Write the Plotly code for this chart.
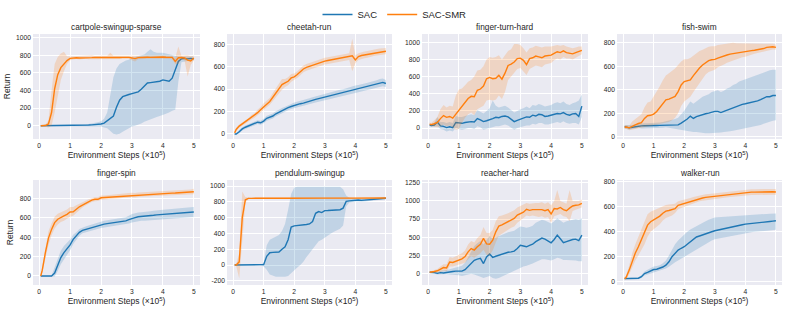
import plotly.graph_objects as go

# ---------------- data ----------------
STEPS = [0.05, 0.1, 0.2, 0.3, 0.4, 0.5, 0.6, 0.7, 0.8, 0.9,
         1.0, 1.1, 1.2, 1.3, 1.4, 1.5, 1.6, 1.7, 1.8, 1.9,
         2.0, 2.1, 2.2, 2.3, 2.4, 2.5, 2.6, 2.7, 2.8, 2.9,
         3.0, 3.1, 3.2, 3.3, 3.4, 3.5, 3.6, 3.7, 3.8, 3.9,
         4.0, 4.1, 4.2, 4.3, 4.4, 4.5, 4.6, 4.7, 4.8, 4.9,
         5.0]
X_TICKS = [0, 1, 2, 3, 4, 5]
SERIES = ["SAC", "SAC-SMR"]
TITLES = ["cartpole-swingup-sparse", "cheetah-run", "finger-turn-hard", "fish-swim",
          "finger-spin", "pendulum-swingup", "reacher-hard", "walker-run"]

# cartpole-swingup-sparse
CP_SAC_MEAN = [0, 0, 0, 0, 0, 0, 0, 0, 0, 0,
               0, 0, 0, 2, 3, 5, 8, 10, 12, 15,
               20, 30, 60, 85, 110, 210, 290, 330, 345, 355,
               365, 375, 385, 415, 450, 485, 490, 495, 500, 505,
               520, 510, 505, 540, 640, 730, 760, 765, 760, 765,
               760]
CP_SAC_LO = [-3, -3, -3, -3, -3, -3, -3, -3, -3, -3,
             -3, -3, -3, -3, -5, -5, -5, -8, -10, -10,
             -10, -20, -30, -60, -90, -100, -90, -70, -50, -30,
             -10, 0, 10, 25, 45, 60, 75, 85, 100, 110,
             120, 135, 150, 170, 180, 500, 720, 730, 735, 740,
             740]
CP_SAC_HI = [3, 3, 3, 3, 3, 3, 3, 3, 3, 3,
             3, 3, 5, 8, 10, 15, 20, 25, 30, 40,
             50, 80, 150, 350, 550, 650, 700, 720, 740, 750,
             770, 780, 790, 800, 810, 840, 870, 840, 830, 830,
             830, 820, 810, 800, 790, 785, 785, 785, 785, 785,
             785]
CP_SMR_MEAN = [0, 0, 2, 20, 150, 420, 580, 660, 700, 740,
               765, 770, 772, 770, 773, 775, 772, 774, 776, 775,
               774, 776, 775, 778, 776, 777, 775, 776, 778, 776,
               770, 762, 774, 777, 776, 778, 776, 779, 777, 778,
               780, 778, 779, 776, 730, 772, 775, 770, 745, 735,
               770]
CP_SMR_LO = [-5, -5, -10, -20, 0, 150, 350, 520, 620, 700,
             745, 755, 758, 752, 758, 760, 755, 755, 760, 758,
             755, 760, 758, 760, 758, 760, 757, 758, 760, 757,
             745, 730, 755, 760, 758, 760, 758, 762, 760, 760,
             762, 760, 762, 755, 700, 700, 755, 740, 560, 690,
             740]
CP_SMR_HI = [5, 5, 15, 60, 400, 700, 780, 820, 840, 790,
             785, 787, 788, 790, 790, 792, 790, 800, 792, 792,
             792, 794, 795, 830, 795, 796, 795, 796, 796, 796,
             795, 790, 793, 795, 795, 797, 795, 797, 796, 797,
             798, 797, 797, 796, 770, 900, 795, 795, 800, 790,
             795]

# cheetah-run
CH_SAC_MEAN = [0, 0, 20, 45, 60, 70, 80, 95, 105, 100,
               115, 140, 150, 160, 180, 195, 210, 220, 235, 245,
               255, 262, 270, 275, 285, 292, 300, 308, 315, 322,
               330, 335, 342, 350, 358, 365, 370, 378, 385, 392,
               400, 405, 410, 418, 425, 430, 438, 445, 455, 460,
               450]
CH_SAC_LO = [-5, -5, 5, 30, 45, 55, 65, 78, 88, 82,
             95, 118, 128, 138, 158, 172, 188, 198, 212, 222,
             230, 237, 245, 250, 258, 265, 272, 280, 287, 294,
             300, 305, 312, 320, 328, 335, 340, 347, 354, 360,
             368, 372, 378, 385, 392, 396, 404, 410, 420, 425,
             418]
CH_SAC_HI = [5, 5, 35, 60, 75, 85, 95, 112, 122, 118,
             135, 162, 172, 182, 202, 218, 232, 242, 258, 268,
             280, 287, 295, 300, 312, 319, 328, 336, 343, 350,
             360, 365, 372, 380, 388, 395, 400, 409, 416, 424,
             432, 438, 442, 451, 458, 464, 472, 480, 490, 495,
             482]
CH_SMR_MEAN = [10, 40, 70, 90, 110, 125, 150, 165, 190, 215,
               245, 265, 290, 330, 370, 410, 440, 455, 470, 500,
               510, 530, 555, 580, 595, 605, 615, 625, 635, 645,
               650, 655, 660, 665, 670, 675, 680, 685, 690, 698,
               660, 690, 700, 705, 710, 718, 722, 728, 732, 735,
               738]
CH_SMR_LO = [0, 25, 55, 75, 95, 110, 130, 145, 165, 190,
             215, 235, 260, 295, 330, 360, 395, 420, 435, 465,
             480, 500, 525, 550, 565, 575, 585, 595, 605, 615,
             620, 625, 630, 635, 640, 645, 650, 655, 660, 560,
             630, 660, 670, 675, 680, 690, 695, 700, 705, 708,
             712]
CH_SMR_HI = [20, 55, 85, 105, 125, 140, 170, 185, 215, 240,
             275, 295, 320, 365, 410, 455, 490, 490, 505, 535,
             540, 560, 585, 610, 625, 635, 645, 655, 665, 675,
             680, 685, 690, 695, 700, 705, 710, 715, 720, 850,
             700, 720, 730, 735, 740, 748, 752, 758, 762, 765,
             768]

# finger-turn-hard
FT_SAC_MEAN = [35, 30, 35, 70, 25, 20, 5, 15, 5, 65,
               60, 55, 65, 70, 75, 70, 110, 95, 75, 85,
               95, 110, 125, 120, 135, 140, 130, 100, 75, 90,
               105, 115, 130, 125, 150, 140, 160, 155, 135, 140,
               150, 160, 170, 165, 180, 160, 150, 165, 170, 135,
               255]
FT_SAC_LO = [20, 15, 15, 20, -10, -20, -40, -30, -40, 0,
             -10, -20, -10, 0, 0, -10, 20, 10, -20, -10,
             0, 10, 20, 20, 30, 40, 30, 0, -20, 0,
             10, 20, 30, 30, 50, 40, 60, 60, 40, 40,
             50, 60, 70, 60, 80, 60, 50, 60, 60, 40,
             130]
FT_SAC_HI = [50, 45, 60, 130, 70, 70, 60, 70, 60, 140,
             130, 130, 140, 150, 160, 150, 210, 190, 170, 200,
             230, 320, 260, 240, 250, 260, 240, 210, 180, 200,
             220, 230, 250, 230, 270, 260, 280, 270, 250, 260,
             270, 290, 300, 290, 310, 280, 270, 290, 300, 320,
             390]
FT_SMR_MEAN = [45, 40, 50, 65, 110, 145, 125, 135, 115, 160,
               210, 255, 305, 345, 370, 365, 440, 455, 490, 575,
               590, 575, 580, 615, 570, 640, 730, 745, 770, 810,
               815, 790, 740, 810, 820, 840, 830, 820, 840, 845,
               850, 870, 890, 880, 900, 880, 875, 865, 880, 895,
               905]
FT_SMR_LO = [25, 20, 15, 10, 20, 40, 20, 30, 10, -20,
             -10, 60, 120, 160, 180, 150, 220, 240, 260, 320,
             330, 320, 330, 380, 340, 420, 560, 600, 640, 690,
             700, 660, 620, 690, 710, 730, 720, 710, 740, 750,
             760, 790, 810, 800, 830, 810, 810, 800, 820, 840,
             860]
FT_SMR_HI = [65, 60, 90, 130, 220, 270, 240, 260, 250, 380,
             450, 460, 500, 540, 560, 600, 670, 680, 720, 800,
             830, 820, 830, 850, 800, 850, 900, 920, 980, 980,
             970, 930, 880, 930, 940, 960, 950, 940, 950, 950,
             950, 960, 970, 960, 970, 950, 940, 930, 940, 950,
             950]

# fish-swim
FI_SAC_MEAN = [85, 80, 75, 80, 85, 90, 92, 93, 92, 93,
               95, 95, 96, 97, 100, 100, 100, 102, 100, 115,
               130, 150, 175, 155, 170, 180, 190, 195, 200, 210,
               215, 215, 205, 215, 225, 240, 250, 255, 270, 275,
               280, 285, 290, 295, 305, 315, 330, 340, 340, 350,
               350]
FI_SAC_LO = [70, 65, 60, 65, 70, 75, 70, 70, 70, 75,
             75, 75, 75, 75, 80, 75, 70, 65, 60, 55,
             50, 50, 45, 40, 40, 35, 30, 30, 30, 30,
             35, 35, 35, 40, 40, 45, 50, 55, 60, 65,
             70, 75, 80, 85, 95, 100, 110, 120, 130, 135,
             140]
FI_SAC_HI = [100, 100, 95, 100, 105, 110, 115, 115, 115, 115,
             120, 120, 120, 125, 130, 135, 140, 150, 160, 190,
             220, 260, 300, 280, 300, 320, 340, 350, 360, 380,
             390, 395, 380, 390, 410, 420, 440, 450, 470, 480,
             490, 500, 510, 520, 530, 540, 550, 560, 565, 570,
             570]
FI_SMR_MEAN = [80, 82, 75, 90, 100, 112, 120, 155, 178, 182,
               192, 215, 250, 285, 314, 320, 330, 342, 384, 440,
               469, 475, 483, 520, 554, 585, 610, 630, 647, 655,
               658, 668, 675, 685, 695, 703, 708, 712, 716, 720,
               723, 727, 732, 736, 740, 743, 750, 760, 765, 765,
               760]
FI_SMR_LO = [65, 65, 55, 60, 65, 70, 75, 85, 90, 90,
             95, 100, 105, 110, 120, 125, 140, 160, 200, 260,
             300, 320, 340, 380, 420, 460, 500, 530, 550, 560,
             570, 590, 600, 615, 630, 640, 650, 660, 670, 675,
             680, 690, 700, 705, 712, 718, 725, 735, 740, 742,
             740]
FI_SMR_HI = [95, 100, 95, 130, 150, 170, 190, 250, 290, 300,
             340, 380, 430, 480, 520, 540, 560, 580, 610, 640,
             660, 660, 670, 690, 710, 730, 740, 755, 765, 770,
             770, 780, 785, 790, 795, 800, 800, 795, 795, 795,
             795, 795, 795, 795, 795, 795, 795, 795, 795, 790,
             785]

# finger-spin
FS_SAC_MEAN = [0, 0, 0, 0, 0, 30, 110, 190, 240, 280,
               320, 377, 412, 450, 470, 480, 490, 500, 510, 520,
               530, 535, 540, 545, 550, 556, 560, 562, 568, 580,
               594, 602, 610, 612, 614, 617, 622, 626, 630, 632,
               635, 637, 639, 641, 643, 645, 648, 651, 654, 657,
               659]
FS_SAC_LO = [-5, -5, -5, -5, -5, -5, 50, 120, 170, 220,
             265, 330, 375, 415, 440, 450, 460, 470, 478, 485,
             495, 500, 505, 510, 515, 520, 522, 525, 530, 540,
             550, 558, 565, 568, 570, 572, 576, 580, 583, 585,
             588, 590, 592, 594, 596, 598, 600, 602, 604, 606,
             608]
FS_SAC_HI = [5, 5, 5, 5, 5, 90, 180, 260, 310, 340,
             375, 425, 450, 485, 500, 510, 520, 530, 540, 552,
             565, 570, 575, 580, 585, 592, 598, 600, 606, 620,
             638, 646, 655, 656, 658, 662, 668, 672, 677, 679,
             682, 684, 686, 688, 690, 692, 696, 700, 704, 708,
             712]
FS_SMR_MEAN = [0, 60, 240, 390, 480, 550, 585, 605, 620, 635,
               660, 662, 690, 713, 730, 748, 765, 782, 790, 790,
               806, 808, 812, 815, 818, 822, 825, 828, 830, 832,
               834, 830, 836, 838, 840, 842, 843, 844, 846, 848,
               850, 851, 852, 854, 855, 856, 858, 860, 862, 864,
               868]
FS_SMR_LO = [-5, 30, 180, 320, 420, 490, 530, 555, 570, 590,
             610, 620, 650, 680, 705, 725, 745, 762, 770, 772,
             785, 788, 792, 795, 798, 802, 805, 808, 810, 812,
             812, 808, 814, 816, 818, 820, 821, 822, 824, 826,
             828, 829, 830, 831, 832, 833, 835, 836, 838, 840,
             842]
FS_SMR_HI = [5, 90, 300, 460, 540, 610, 640, 655, 670, 685,
             710, 710, 730, 748, 760, 775, 790, 805, 812, 812,
             828, 830, 834, 837, 840, 843, 846, 849, 852, 855,
             858, 855, 860, 862, 864, 866, 867, 868, 870, 872,
             874, 875, 876, 878, 880, 882, 884, 886, 888, 892,
             900]

# pendulum-swingup
PE_SAC_MEAN = [0, 0, 0, 0, 0, 0, 0, 0, 0, 0,
               5, 110, 155, 160, 160, 165, 200, 230, 320, 480,
               495, 498, 502, 507, 512, 520, 550, 655, 676, 664,
               689, 690, 692, 698, 698, 700, 720, 805, 812, 818,
               824, 822, 818, 822, 826, 828, 832, 836, 840, 842,
               845]
PE_SAC_LO = [-3, -3, -3, -3, -3, -3, -3, -3, -3, -3,
             -20, -60, -120, -140, -150, -150, -150, -150, -140, -100,
             -60, -30, 0, 40, 100, 150, 200, 260, 300, 320,
             350, 380, 400, 420, 440, 460, 500, 740, 790, 800,
             805, 805, 800, 805, 810, 812, 818, 822, 826, 828,
             830]
PE_SAC_HI = [3, 3, 3, 3, 3, 3, 3, 3, 3, 3,
             30, 250, 320, 340, 350, 380, 430, 520, 700, 900,
             980, 990, 990, 990, 990, 990, 990, 990, 990, 990,
             990, 990, 990, 990, 990, 990, 960, 880, 850, 845,
             845, 842, 838, 840, 845, 846, 848, 852, 855, 856,
             858]
PE_SMR_MEAN = [0, 0, 40, 600, 825, 843, 844, 845, 845, 845,
               845, 846, 845, 846, 846, 845, 846, 846, 845, 846,
               846, 846, 847, 846, 846, 847, 846, 847, 846, 847,
               847, 846, 847, 847, 846, 847, 847, 848, 847, 847,
               847, 848, 847, 848, 848, 847, 848, 848, 848, 848,
               848]
PE_SMR_LO = [-5, -10, -170, 320, 790, 835, 837, 838, 838, 838,
             838, 839, 838, 839, 839, 838, 839, 839, 838, 839,
             839, 839, 840, 839, 839, 840, 839, 840, 839, 840,
             840, 839, 840, 840, 839, 840, 840, 841, 840, 840,
             840, 841, 840, 841, 841, 840, 841, 841, 841, 841,
             841]
PE_SMR_HI = [5, 10, 150, 930, 860, 852, 852, 853, 853, 853,
             853, 854, 853, 854, 854, 853, 854, 854, 853, 854,
             854, 854, 855, 854, 854, 855, 854, 855, 854, 855,
             855, 854, 855, 855, 854, 855, 855, 856, 855, 855,
             855, 856, 855, 856, 856, 855, 856, 856, 856, 856,
             856]

# reacher-hard
RE_SAC_MEAN = [20, 20, 15, 5, 15, 10, 20, 25, 30, 35,
               40, 35, 55, 95, 140, 185, 200, 210, 140, 230,
               270, 225, 240, 255, 270, 290, 295, 300, 310, 345,
               390, 380, 370, 390, 405, 440, 470, 490, 475, 450,
               425, 470, 530, 480, 425, 440, 460, 470, 475, 455,
               530]
RE_SAC_LO = [5, 5, 0, -10, -5, -10, -5, -10, -10, -15,
             -20, -30, -20, -10, 0, -10, -20, -40, -60, -40,
             -30, -60, -70, -60, -40, -20, 0, 20, 40, 60,
             90, 100, 110, 120, 140, 160, 180, 200, 200, 190,
             180, 200, 220, 210, 190, 190, 190, 180, 180, 170,
             170]
RE_SAC_HI = [35, 35, 35, 25, 40, 40, 50, 60, 70, 80,
             100, 110, 150, 220, 300, 380, 420, 450, 400, 470,
             520, 480, 500, 520, 540, 560, 570, 580, 590, 620,
             650, 640, 630, 640, 660, 700, 720, 740, 730, 710,
             690, 720, 760, 730, 700, 720, 730, 740, 750, 740,
             760]
RE_SMR_MEAN = [20, 20, 30, 40, 60, 85, 80, 160, 155, 170,
               185, 205, 235, 300, 345, 325, 370, 405, 485, 410,
               405, 460, 575, 655, 670, 690, 715, 740, 760, 805,
               830, 845, 885, 870, 880, 880, 875, 880, 865, 880,
               820, 895, 890, 910, 880, 865, 900, 930, 940, 945,
               965]
RE_SMR_LO = [5, 5, 10, 15, 25, 40, 35, 100, 100, 110,
             120, 130, 150, 200, 240, 220, 250, 280, 330, 260,
             250, 320, 430, 520, 550, 580, 600, 630, 650, 700,
             730, 760, 800, 790, 800, 790, 780, 790, 770, 780,
             700, 790, 800, 820, 790, 780, 720, 860, 880, 890,
             910]
RE_SMR_HI = [35, 35, 50, 65, 100, 130, 130, 230, 220, 240,
             260, 280, 320, 400, 450, 430, 490, 530, 640, 560,
             560, 600, 720, 790, 800, 810, 830, 850, 870, 910,
             930, 940, 970, 960, 970, 970, 970, 980, 960, 980,
             940, 1000, 1150, 1000, 980, 960, 1150, 1000, 1000, 1000,
             1020]

# walker-run
WA_SAC_MEAN = [25, 25, 25, 26, 27, 28, 40, 65, 75, 85,
               98, 100, 107, 118, 133, 160, 200, 230, 253, 268,
               280, 300, 320, 340, 358, 366, 373, 383, 392, 400,
               408, 414, 420, 425, 430, 435, 440, 446, 451, 456,
               461, 463, 465, 468, 470, 472, 476, 479, 482, 485,
               488]
WA_SAC_LO = [18, 18, 18, 19, 20, 20, 30, 50, 58, 65,
             75, 78, 85, 92, 105, 120, 140, 155, 170, 185,
             200, 215, 230, 245, 260, 275, 290, 305, 318, 330,
             340, 345, 350, 355, 360, 365, 370, 375, 380, 385,
             390, 393, 396, 399, 402, 405, 407, 409, 411, 413,
             415]
WA_SAC_HI = [32, 32, 32, 33, 34, 36, 52, 82, 95, 108,
             122, 125, 132, 148, 170, 210, 260, 300, 330, 355,
             380, 400, 418, 432, 446, 460, 472, 484, 495, 505,
             515, 517, 519, 521, 523, 525, 527, 529, 531, 532,
             533, 534, 535, 536, 538, 540, 541, 543, 544, 545,
             547]
WA_SMR_MEAN = [25, 35, 93, 170, 230, 280, 335, 387, 453, 480,
               493, 510, 525, 548, 565, 570, 575, 585, 612, 620,
               627, 635, 642, 650, 658, 667, 670, 675, 678, 682,
               685, 688, 691, 695, 698, 701, 703, 706, 709, 712,
               715, 716, 717, 717, 718, 719, 720, 721, 722, 720,
               718]
WA_SMR_LO = [15, 20, 60, 120, 170, 210, 250, 300, 360, 400,
             420, 440, 460, 490, 510, 520, 530, 550, 580, 590,
             600, 610, 615, 625, 635, 645, 648, 652, 656, 660,
             663, 666, 669, 672, 675, 678, 680, 683, 686, 689,
             692, 693, 694, 694, 695, 696, 697, 698, 698, 696,
             694]
WA_SMR_HI = [35, 50, 130, 230, 300, 360, 430, 490, 540, 560,
             570, 580, 590, 605, 615, 618, 620, 625, 645, 650,
             655, 662, 670, 678, 685, 692, 695, 700, 703, 706,
             709, 712, 715, 719, 722, 725, 727, 730, 733, 736,
             739, 740, 741, 741, 742, 743, 744, 745, 746, 745,
             743]

Y_TICKS = [
    [0, 200, 400, 600, 800, 1000],
    [0, 200, 400, 600, 800],
    [0, 200, 400, 600, 800, 1000],
    [0, 200, 400, 600, 800],
    [0, 200, 400, 600, 800],
    [-200, 0, 200, 400, 600, 800, 1000],
    [0, 250, 500, 750, 1000, 1250],
    [0, 200, 400, 600, 800],
]

PANEL_DATA = [
    ((CP_SAC_MEAN, CP_SAC_LO, CP_SAC_HI), (CP_SMR_MEAN, CP_SMR_LO, CP_SMR_HI)),
    ((CH_SAC_MEAN, CH_SAC_LO, CH_SAC_HI), (CH_SMR_MEAN, CH_SMR_LO, CH_SMR_HI)),
    ((FT_SAC_MEAN, FT_SAC_LO, FT_SAC_HI), (FT_SMR_MEAN, FT_SMR_LO, FT_SMR_HI)),
    ((FI_SAC_MEAN, FI_SAC_LO, FI_SAC_HI), (FI_SMR_MEAN, FI_SMR_LO, FI_SMR_HI)),
    ((FS_SAC_MEAN, FS_SAC_LO, FS_SAC_HI), (FS_SMR_MEAN, FS_SMR_LO, FS_SMR_HI)),
    ((PE_SAC_MEAN, PE_SAC_LO, PE_SAC_HI), (PE_SMR_MEAN, PE_SMR_LO, PE_SMR_HI)),
    ((RE_SAC_MEAN, RE_SAC_LO, RE_SAC_HI), (RE_SMR_MEAN, RE_SMR_LO, RE_SMR_HI)),
    ((WA_SAC_MEAN, WA_SAC_LO, WA_SAC_HI), (WA_SMR_MEAN, WA_SMR_LO, WA_SMR_HI)),
]

# ---------------- layout / style ----------------
W, H = 789, 311
COL_PX = [(33, 200), (227, 392), (422, 588), (617, 782)]
ROW_PX = [(34, 139), (180, 285)]
Y_RANGES = [[-151, 1042], [-45, 892], [-128, 1097], [-20, 874],
            [-93, 989], [-253, 1076], [-155, 1287], [-26, 814]]
X_RANGE = [-0.2, 5.2]
LINE_COLORS = ["#1f77b4", "#ff7f0e"]
FILL_COLORS = ["rgba(31,119,180,0.2)", "rgba(255,127,14,0.2)"]
FONT = "Liberation Sans, Arial, sans-serif"
TXT = "#262626"
BG = "#EAEAF2"

fig = go.Figure()
layout = dict(
    width=W, height=H, margin=dict(l=0, r=0, t=0, b=0, autoexpand=False),
    paper_bgcolor="white", plot_bgcolor=BG,
    font=dict(family=FONT, color=TXT, size=8),
    showlegend=True,
    legend=dict(orientation="h", x=0.5, xanchor="center", y=1.0, yanchor="top",
                font=dict(size=9.5, family=FONT, color=TXT),
                bgcolor="rgba(0,0,0,0)", itemwidth=30, tracegroupgap=0),
    annotations=[],
)

for p in range(8):
    r, c = divmod(p, 4)
    n = p + 1
    sfx = "" if n == 1 else str(n)
    xa, ya = "x" + sfx, "y" + sfx
    x0, x1 = COL_PX[c]
    t0, b0 = ROW_PX[r]
    for s in range(2):
        mean, lo, hi = PANEL_DATA[p][s]
        fig.add_trace(go.Scatter(x=STEPS, y=lo, mode="lines", line=dict(width=0),
                                 showlegend=False, hoverinfo="skip", xaxis=xa, yaxis=ya))
        fig.add_trace(go.Scatter(x=STEPS, y=hi, mode="lines", line=dict(width=0),
                                 fill="tonexty", fillcolor=FILL_COLORS[s],
                                 showlegend=False, hoverinfo="skip", xaxis=xa, yaxis=ya))
        fig.add_trace(go.Scatter(x=STEPS, y=mean, mode="lines", name=SERIES[s],
                                 line=dict(color=LINE_COLORS[s], width=1.4),
                                 legendgroup=SERIES[s], showlegend=(p == 0),
                                 xaxis=xa, yaxis=ya))
    layout["xaxis" + sfx] = dict(
        domain=[x0 / W, x1 / W], anchor=ya, range=X_RANGE, automargin=False,
        tickvals=X_TICKS, ticktext=[str(v) for v in X_TICKS],
        showgrid=True, gridcolor="white", gridwidth=1, zeroline=False, showline=False,
        ticks="", tickfont=dict(size=6.7, color=TXT), ticklabelstandoff=1,
        title=dict(text="Environment Steps (×10<sup>5</sup>)", font=dict(size=8.5, color=TXT),
                   standoff=4),
    )
    yax = dict(
        domain=[1 - b0 / H, 1 - t0 / H], anchor=xa, range=Y_RANGES[p], automargin=False,
        tickvals=Y_TICKS[p], ticktext=[str(v) for v in Y_TICKS[p]],
        showgrid=True, gridcolor="white", gridwidth=1, zeroline=False, showline=False,
        ticks="", tickfont=dict(size=6.7, color=TXT), ticklabelstandoff=1,
    )
    if c == 0:
        yax["title"] = dict(text="Return", font=dict(size=8.5, color=TXT), standoff=4)
    layout["yaxis" + sfx] = yax
    layout["annotations"].append(dict(
        text=TITLES[p], x=(x0 + x1) / 2 / W, y=1 - t0 / H, xref="paper", yref="paper",
        xanchor="center", yanchor="bottom", yshift=0, showarrow=False,
        font=dict(size=8.3, color=TXT, family=FONT)))

fig.update_layout(**layout)
fig.write_html("out.html", config={"displayModeBar": False},
               post_script="document.body.style.margin='0';document.body.style.overflow='hidden';")
